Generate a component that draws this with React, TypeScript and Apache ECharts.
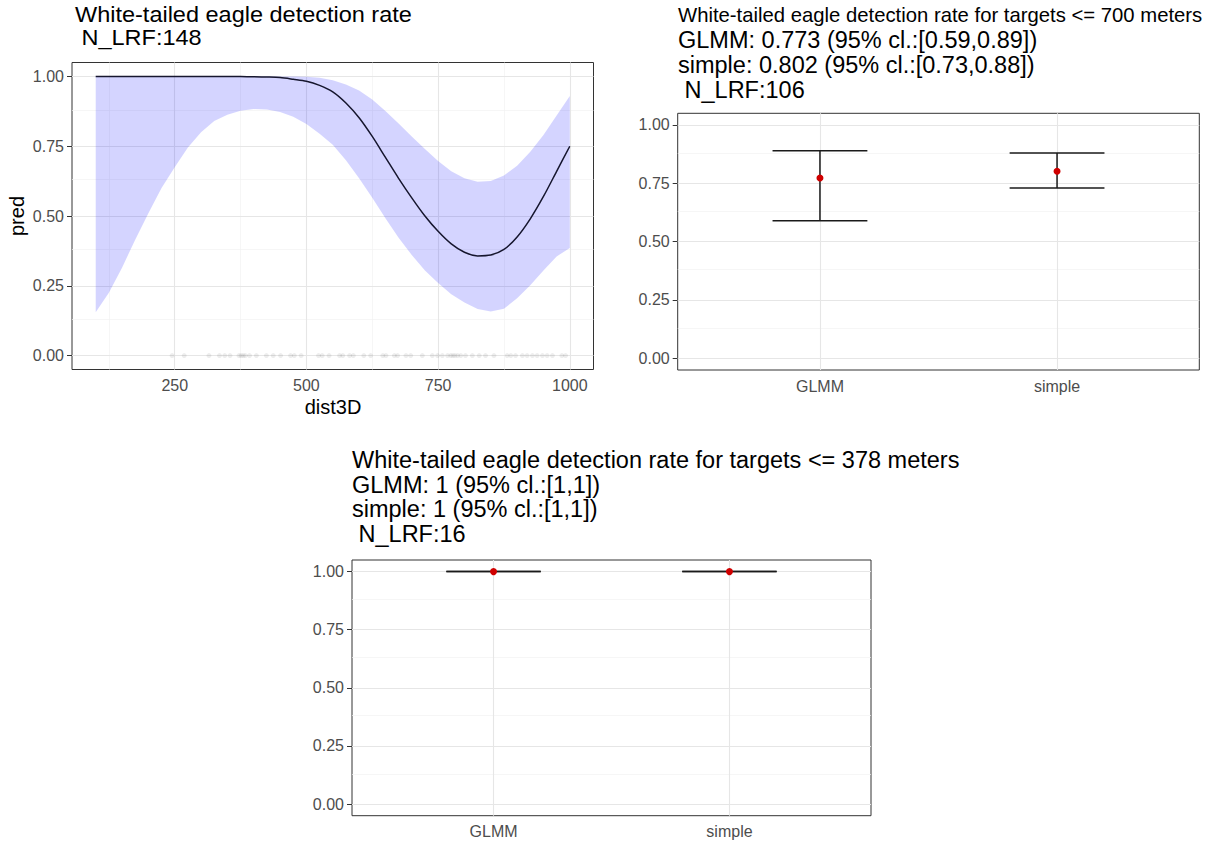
import React, { useEffect, useRef } from 'react';
import * as echarts from 'echarts';

// ---------- data ----------
const DIST = [100, 125, 150, 175, 200, 225, 250, 275, 300, 325, 350, 375, 400, 425, 450, 475, 500, 525, 550, 575, 600, 625, 650, 675, 700, 725, 750, 775, 800, 825, 850, 875, 900, 925, 950, 975, 1000];
const PRED = [1, 1, 1, 1, 1, 1, 1, 1, 1, 1, 1, 0.9995, 0.999, 0.998, 0.996, 0.99, 0.983, 0.968, 0.945, 0.905, 0.852, 0.785, 0.71, 0.635, 0.565, 0.5, 0.445, 0.4, 0.37, 0.357, 0.36, 0.38, 0.425, 0.49, 0.57, 0.66, 0.75];
const LOWER = [0.155, 0.225, 0.315, 0.415, 0.51, 0.6, 0.675, 0.745, 0.8, 0.84, 0.863, 0.877, 0.883, 0.882, 0.873, 0.856, 0.83, 0.795, 0.755, 0.7, 0.635, 0.565, 0.492, 0.422, 0.36, 0.305, 0.26, 0.22, 0.19, 0.167, 0.158, 0.168, 0.205, 0.252, 0.305, 0.355, 0.385];
const UPPER = [1, 1, 1, 1, 1, 1, 1, 1, 1, 1, 1, 1, 1, 1, 1, 1, 0.999, 0.995, 0.986, 0.971, 0.95, 0.917, 0.876, 0.831, 0.785, 0.74, 0.697, 0.66, 0.635, 0.623, 0.625, 0.645, 0.68, 0.73, 0.79, 0.86, 0.93];
const RUG_X = [245, 268, 315, 335, 345, 355, 372, 376, 380, 384, 392, 405, 424, 437, 451, 470, 477, 490, 523, 530, 543, 563, 569, 582, 589, 609, 622, 645, 651, 667, 673, 689, 698, 720, 739, 749, 758, 768, 774, 778, 782, 787, 793, 802, 815, 828, 840, 856, 881, 888, 897, 910, 919, 929, 938, 948, 957, 967, 985, 992];

const X_TICKS = [250, 500, 750, 1000];
const X_MINOR = [125, 375, 625, 875];
const Y_TICKS = [0, 0.25, 0.5, 0.75, 1];
const Y_MINOR = [0.125, 0.375, 0.625, 0.875];

const CATEGORIES = ['GLMM', 'simple'];
const CAT_POS = [1, 2];
const EST_700 = [0.773, 0.802];
const LO_700 = [0.59, 0.73];
const HI_700 = [0.89, 0.88];
const EST_378 = [1, 1];
const LO_378 = [1, 1];
const HI_378 = [1, 1];

const TITLE_ALL = ['White-tailed eagle detection rate', ' N_LRF:148'];
const TITLE_700 = [
  'White-tailed eagle detection rate for targets <= 700 meters',
  'GLMM: 0.773 (95% cl.:[0.59,0.89])',
  'simple: 0.802 (95% cl.:[0.73,0.88])',
  ' N_LRF:106',
];
const TITLE_378 = [
  'White-tailed eagle detection rate for targets <= 378 meters',
  'GLMM: 1 (95% cl.:[1,1])',
  'simple: 1 (95% cl.:[1,1])',
  ' N_LRF:16',
];

// ---------- styling ----------
const FONT = '"Liberation Sans", Arial, Helvetica, sans-serif';
const MAJOR = { color: '#e6e6e6', width: 1.1, type: 'solid' as const };
const MINOR = { color: '#f2f2f2', width: 0.7, type: 'solid' as const };
const TICK_COLOR = '#333333';
const LABEL_COLOR = '#4d4d4d';

function gridLines(xMajor: number[], xMinor: number[]) {
  return {
    silent: true,
    z: 1,
    symbol: ['none', 'none'],
    label: { show: false },
    emphasis: { disabled: true },
    animation: false,
    data: [
      ...xMinor.map((v) => ({ xAxis: v, lineStyle: MINOR })),
      ...Y_MINOR.map((v) => ({ yAxis: v, lineStyle: MINOR })),
      ...xMajor.map((v) => ({ xAxis: v, lineStyle: MAJOR })),
      ...Y_TICKS.map((v) => ({ yAxis: v, lineStyle: MAJOR })),
    ],
  };
}

function yAxisOpt(gridIndex: number) {
  return {
    type: 'value',
    gridIndex,
    min: -0.05,
    max: 1.05,
    axisLine: { show: false },
    splitLine: { show: false },
    axisTick: { show: true, length: 5, customValues: Y_TICKS, lineStyle: { color: TICK_COLOR, width: 1 } },
    axisLabel: {
      customValues: Y_TICKS,
      formatter: (v: number) => v.toFixed(2),
      color: LABEL_COLOR,
      fontSize: 16,
      fontFamily: FONT,
      margin: 8,
    },
  };
}

function catAxisOpt(gridIndex: number) {
  return {
    type: 'value',
    gridIndex,
    min: 0.4,
    max: 2.6,
    axisLine: { show: false },
    splitLine: { show: false },
    axisTick: { show: true, length: 5, customValues: CAT_POS, lineStyle: { color: TICK_COLOR, width: 1 } },
    axisLabel: {
      customValues: CAT_POS,
      formatter: (v: number) => CATEGORIES[Math.round(v) - 1] ?? '',
      color: LABEL_COLOR,
      fontSize: 16,
      fontFamily: FONT,
      margin: 8,
    },
  };
}

function errorBarSeries(gridIdx: number, lo: number[], hi: number[]) {
  return {
    type: 'custom',
    xAxisIndex: gridIdx,
    yAxisIndex: gridIdx,
    z: 4,
    silent: true,
    data: CAT_POS.map((p, i) => [p, lo[i], hi[i]]),
    encode: { x: 0, y: [1, 2] },
    renderItem: (_params: any, api: any) => {
      const x = api.value(0);
      const pLo = api.coord([x, api.value(1)]);
      const pHi = api.coord([x, api.value(2)]);
      const half = api.size([0.2, 0])[0];
      const style = { stroke: '#1a1a1a', lineWidth: 1.5, fill: 'none' };
      return {
        type: 'group',
        children: [
          { type: 'line', shape: { x1: pLo[0], y1: pLo[1], x2: pHi[0], y2: pHi[1] }, style },
          { type: 'line', shape: { x1: pLo[0] - half, y1: pLo[1], x2: pLo[0] + half, y2: pLo[1] }, style },
          { type: 'line', shape: { x1: pHi[0] - half, y1: pHi[1], x2: pHi[0] + half, y2: pHi[1] }, style },
        ],
      };
    },
  };
}

function pointSeries(gridIdx: number, est: number[]) {
  return {
    type: 'scatter',
    xAxisIndex: gridIdx,
    yAxisIndex: gridIdx,
    z: 5,
    silent: true,
    symbolSize: 7,
    itemStyle: { color: '#d00000', opacity: 1 },
    data: CAT_POS.map((p, i) => [p, est[i]]),
    markLine: gridLines(CAT_POS, []),
  };
}

function textEl(text: string, x: number, baseline: number, size: number, scaleX = 1) {
  return {
    type: 'text',
    x,
    y: baseline - 0.3465 * size,
    scaleX,
    silent: true,
    z: 10,
    style: {
      text,
      fontSize: size,
      fontFamily: FONT,
      fill: '#000000',
      textAlign: 'left',
      textVerticalAlign: 'middle',
    },
  };
}

export default function App() {
  const ref = useRef<HTMLDivElement>(null);

  useEffect(() => {
    if (!ref.current) return;
    const chart = echarts.init(ref.current, undefined, { renderer: 'svg' });

    const option: any = {
      animation: false,
      backgroundColor: '#ffffff',
      grid: [
        { left: 72, top: 62.5, width: 521.5, height: 307, show: true, borderColor: '#333333', borderWidth: 1, backgroundColor: '#ffffff', containLabel: false },
        { left: 677.7, top: 113.3, width: 521.6, height: 256.7, show: true, borderColor: '#333333', borderWidth: 1, backgroundColor: '#ffffff', containLabel: false },
        { left: 352, top: 560, width: 519, height: 255.7, show: true, borderColor: '#333333', borderWidth: 1, backgroundColor: '#ffffff', containLabel: false },
      ],
      xAxis: [
        {
          type: 'value',
          gridIndex: 0,
          min: 55,
          max: 1045,
          axisLine: { show: false },
          splitLine: { show: false },
          axisTick: { show: true, length: 5, customValues: X_TICKS, lineStyle: { color: TICK_COLOR, width: 1 } },
          axisLabel: {
            customValues: X_TICKS,
            formatter: (v: number) => String(v),
            color: LABEL_COLOR,
            fontSize: 16,
            fontFamily: FONT,
            margin: 8,
          },
        },
        catAxisOpt(1),
        catAxisOpt(2),
      ],
      yAxis: [yAxisOpt(0), yAxisOpt(1), yAxisOpt(2)],
      series: [
        {
          // confidence ribbon drawn as one polygon from the lower and upper arrays
          type: 'custom',
          xAxisIndex: 0,
          yAxisIndex: 0,
          z: 2,
          silent: true,
          data: DIST.map((x, i) => [x, LOWER[i], UPPER[i]]),
          encode: { x: 0, y: [1, 2] },
          renderItem: (params: any, api: any) => {
            if (params.dataIndex !== 0) return null;
            const n = DIST.length;
            const top: number[][] = [];
            const bottom: number[][] = [];
            for (let j = 0; j < n; j++) {
              const x = api.value(0, j);
              top.push(api.coord([x, api.value(2, j)]));
              bottom.push(api.coord([x, api.value(1, j)]));
            }
            const pts = top.concat(bottom.reverse());
            return {
              type: 'polygon',
              shape: { points: pts },
              style: { fill: 'rgba(0,0,255,0.17)', stroke: 'none' },
            };
          },
        },
        {
          type: 'scatter',
          xAxisIndex: 0,
          yAxisIndex: 0,
          data: RUG_X.map((x) => [x, 0]),
          symbolSize: 5,
          itemStyle: { color: 'rgba(0,0,0,0.09)' },
          z: 3,
          silent: true,
          markLine: gridLines(X_TICKS, X_MINOR),
        },
        {
          type: 'line',
          xAxisIndex: 0,
          yAxisIndex: 0,
          data: DIST.map((x, i) => [x, PRED[i]]),
          symbol: 'none',
          smooth: 0.3,
          lineStyle: { color: '#16162e', width: 1.5 },
          z: 4,
          silent: true,
        },
        errorBarSeries(1, LO_700, HI_700),
        pointSeries(1, EST_700),
        errorBarSeries(2, LO_378, HI_378),
        pointSeries(2, EST_378),
      ],
      graphic: [
        textEl(TITLE_ALL[0], 75, 21.7, 22, 1.068),
        textEl(TITLE_ALL[1], 75, 45, 22, 1.068),
        textEl(TITLE_700[0], 678, 22.4, 20.3),
        textEl(TITLE_700[1], 678, 48.4, 23.5),
        textEl(TITLE_700[2], 678, 73.2, 23.5),
        textEl(TITLE_700[3], 678, 98.4, 23.5),
        textEl(TITLE_378[0], 352, 468.3, 23.5),
        textEl(TITLE_378[1], 352, 493.3, 23.5),
        textEl(TITLE_378[2], 352, 517.3, 23.5),
        textEl(TITLE_378[3], 352, 541.7, 23.5),
        {
          type: 'text',
          x: 17,
          y: 216,
          rotation: Math.PI / 2,
          silent: true,
          style: { text: 'pred', fontSize: 20, fontFamily: FONT, fill: '#000000', textAlign: 'center', textVerticalAlign: 'middle' },
        },
        {
          type: 'text',
          x: 333,
          y: 407,
          silent: true,
          style: { text: 'dist3D', fontSize: 20, fontFamily: FONT, fill: '#000000', textAlign: 'center', textVerticalAlign: 'middle' },
        },
      ],
    };

    chart.setOption(option);
    return () => {
      chart.dispose();
    };
  }, []);

  return (
    <div
      ref={ref}
      style={{ position: 'absolute', left: 0, top: 0, width: 1219, height: 844, background: '#ffffff' }}
    />
  );
}
